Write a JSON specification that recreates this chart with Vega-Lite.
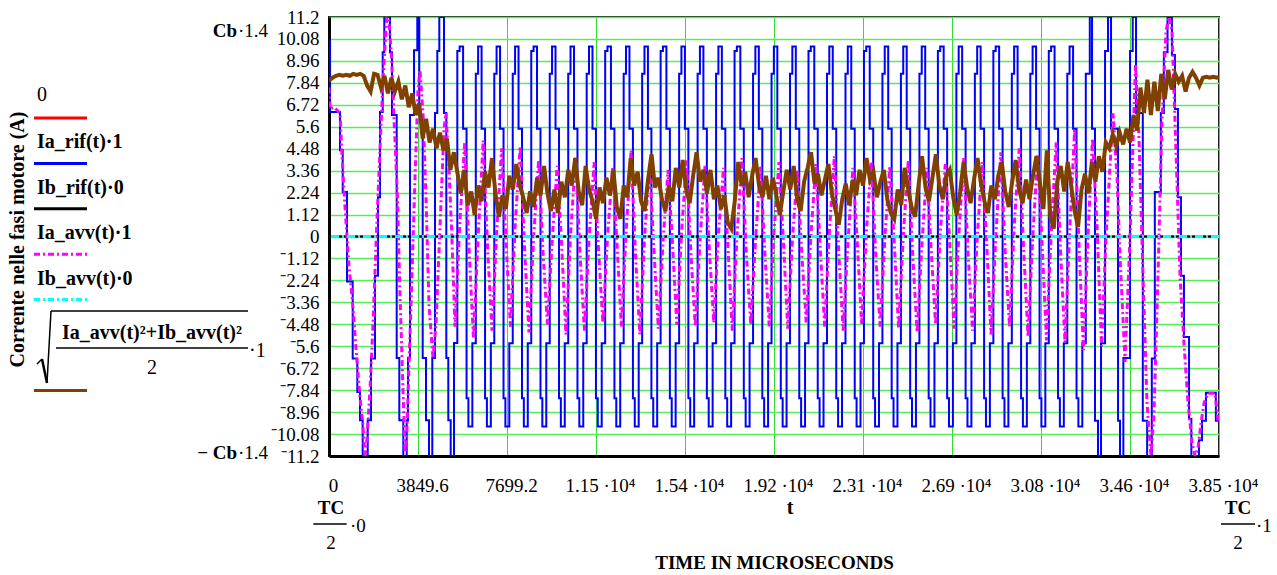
{
"$schema": "https://vega.github.io/schema/vega-lite/v6.json",
"background": "white",
"padding": {"left": 0, "top": 7, "right": 0, "bottom": 0},
"bounds": "flush",
"spacing": 59,
"config": {"font": "Liberation Serif", "view": {"stroke": null}, "axis": {"labelOverlap": false}},
"datasets": {
"legend": [
{"series": "0", "order": 0},
{"series": "Ia_rif(t)·1", "order": 1},
{"series": "Ib_rif(t)·0", "order": 2},
{"series": "Ia_avv(t)·1", "order": 3},
{"series": "Ib_avv(t)·0", "order": 4},
{"series": "√((Ia_avv(t)²+Ib_avv(t)²)/2)·1", "order": 6}
],
"blue": [
{"t":0,"v":10.0},{"t":45,"v":6.35},{"t":476,"v":4.4},{"t":593,"v":2.27},{"t":780,"v":-2.3},{"t":1025,"v":-6.23},{"t":1224,"v":-7.93},{"t":1341,"v":-9.38},{"t":1457,"v":-11.2},{"t":1674,"v":-9.38},{"t":1817,"v":-6.23},{"t":1990,"v":-2.0},{"t":2120,"v":2.0},{"t":2206,"v":6.35},{"t":2323,"v":9.4},{"t":2392,"v":11.2},{"t":2638,"v":9.4},{"t":2725,"v":6.2},{"t":2928,"v":-6.2},{"t":3041,"v":-9.38},{"t":3214,"v":-11.2},{"t":3361,"v":-9.38},{"t":3417,"v":-6.2},{"t":3504,"v":6.2},{"t":3677,"v":9.5},{"t":3819,"v":11.2},{"t":3906,"v":6.2},{"t":4053,"v":-6.2},{"t":4196,"v":-9.38},{"t":4325,"v":-11.2},{"t":4468,"v":-6.2},{"t":4585,"v":6.3},{"t":4684,"v":9.47},{"t":4771,"v":11.2},{"t":4974,"v":6.3},{"t":5074,"v":-6.2},{"t":5160,"v":-9.38},{"t":5264,"v":-11.2},{"t":5407,"v":-5.43},
{"t":5550,"v":9.47},{"t":5650,"v":9.7},{"t":5800,"v":5.5},{"t":5950,"v":-8.25},{"t":6030,"v":-9.7},{"t":6200,"v":-5.45},
{"t":6350,"v":8.3},{"t":6450,"v":9.7},{"t":6600,"v":5.5},{"t":6750,"v":-8.25},{"t":6830,"v":-9.7},{"t":7000,"v":-5.45},
{"t":7149,"v":8.3},{"t":7249,"v":9.7},{"t":7399,"v":5.5},{"t":7549,"v":-8.25},{"t":7629,"v":-9.7},{"t":7799,"v":-5.45},
{"t":7948,"v":8.3},{"t":8048,"v":9.7},{"t":8198,"v":5.5},{"t":8348,"v":-8.25},{"t":8428,"v":-9.7},{"t":8598,"v":-5.45},
{"t":8748,"v":9.47},{"t":8848,"v":9.7},{"t":8998,"v":5.5},{"t":9148,"v":-8.25},{"t":9228,"v":-9.7},{"t":9398,"v":-5.45},
{"t":9548,"v":8.3},{"t":9648,"v":9.7},{"t":9798,"v":5.5},{"t":9948,"v":-8.25},{"t":10028,"v":-9.7},{"t":10198,"v":-5.45},
{"t":10347,"v":8.3},{"t":10447,"v":9.7},{"t":10597,"v":5.5},{"t":10747,"v":-8.25},{"t":10827,"v":-9.7},{"t":10997,"v":-5.45},
{"t":11146,"v":8.3},{"t":11246,"v":9.7},{"t":11396,"v":5.5},{"t":11546,"v":-8.25},{"t":11626,"v":-9.7},{"t":11796,"v":-5.45},
{"t":11946,"v":9.47},{"t":12046,"v":9.7},{"t":12196,"v":5.5},{"t":12346,"v":-8.25},{"t":12426,"v":-9.7},{"t":12596,"v":-5.45},
{"t":12746,"v":8.3},{"t":12846,"v":9.7},{"t":12996,"v":5.5},{"t":13146,"v":-8.25},{"t":13226,"v":-9.7},{"t":13396,"v":-5.45},
{"t":13545,"v":8.3},{"t":13645,"v":9.7},{"t":13795,"v":5.5},{"t":13945,"v":-8.25},{"t":14025,"v":-9.7},{"t":14195,"v":-5.45},
{"t":14344,"v":9.47},{"t":14444,"v":9.7},{"t":14594,"v":5.5},{"t":14744,"v":-8.25},{"t":14824,"v":-9.7},{"t":14994,"v":-5.45},
{"t":15144,"v":8.3},{"t":15244,"v":9.7},{"t":15394,"v":5.5},{"t":15544,"v":-8.25},{"t":15624,"v":-9.7},{"t":15794,"v":-5.45},
{"t":15944,"v":8.3},{"t":16044,"v":9.7},{"t":16194,"v":5.5},{"t":16344,"v":-8.25},{"t":16424,"v":-9.7},{"t":16594,"v":-5.45},
{"t":16743,"v":8.3},{"t":16843,"v":9.7},{"t":16993,"v":5.5},{"t":17143,"v":-8.25},{"t":17223,"v":-9.7},{"t":17393,"v":-5.45},
{"t":17542,"v":9.47},{"t":17642,"v":9.7},{"t":17792,"v":5.5},{"t":17942,"v":-8.25},{"t":18022,"v":-9.7},{"t":18192,"v":-5.45},
{"t":18342,"v":8.3},{"t":18442,"v":9.7},{"t":18592,"v":5.5},{"t":18742,"v":-8.25},{"t":18822,"v":-9.7},{"t":18992,"v":-5.45},
{"t":19142,"v":8.3},{"t":19242,"v":9.7},{"t":19392,"v":5.5},{"t":19542,"v":-8.25},{"t":19622,"v":-9.7},{"t":19792,"v":-5.45},
{"t":19941,"v":8.3},{"t":20041,"v":9.7},{"t":20191,"v":5.5},{"t":20341,"v":-8.25},{"t":20421,"v":-9.7},{"t":20591,"v":-5.45},
{"t":20740,"v":9.47},{"t":20840,"v":9.7},{"t":20990,"v":5.5},{"t":21140,"v":-8.25},{"t":21220,"v":-9.7},{"t":21390,"v":-5.45},
{"t":21540,"v":8.3},{"t":21640,"v":9.7},{"t":21790,"v":5.5},{"t":21940,"v":-8.25},{"t":22020,"v":-9.7},{"t":22190,"v":-5.45},
{"t":22340,"v":8.3},{"t":22440,"v":9.7},{"t":22590,"v":5.5},{"t":22740,"v":-8.25},{"t":22820,"v":-9.7},{"t":22990,"v":-5.45},
{"t":23139,"v":9.47},{"t":23239,"v":9.7},{"t":23389,"v":5.5},{"t":23539,"v":-8.25},{"t":23619,"v":-9.7},{"t":23789,"v":-5.45},
{"t":23938,"v":8.3},{"t":24038,"v":9.7},{"t":24188,"v":5.5},{"t":24338,"v":-8.25},{"t":24418,"v":-9.7},{"t":24588,"v":-5.45},
{"t":24738,"v":8.3},{"t":24838,"v":9.7},{"t":24988,"v":5.5},{"t":25138,"v":-8.25},{"t":25218,"v":-9.7},{"t":25388,"v":-5.45},
{"t":25538,"v":8.3},{"t":25638,"v":9.7},{"t":25788,"v":5.5},{"t":25938,"v":-8.25},{"t":26018,"v":-9.7},{"t":26188,"v":-5.45},
{"t":26337,"v":9.47},{"t":26437,"v":9.7},{"t":26587,"v":5.5},{"t":26737,"v":-8.25},{"t":26817,"v":-9.7},{"t":26987,"v":-5.45},
{"t":27136,"v":8.3},{"t":27236,"v":9.7},{"t":27386,"v":5.5},{"t":27536,"v":-8.25},{"t":27616,"v":-9.7},{"t":27786,"v":-5.45},
{"t":27936,"v":8.3},{"t":28036,"v":9.7},{"t":28186,"v":5.5},{"t":28336,"v":-8.25},{"t":28416,"v":-9.7},{"t":28586,"v":-5.45},
{"t":28736,"v":9.47},{"t":28836,"v":9.7},{"t":28986,"v":5.5},{"t":29136,"v":-8.25},{"t":29216,"v":-9.7},{"t":29386,"v":-5.45},
{"t":29535,"v":8.3},{"t":29635,"v":9.7},{"t":29785,"v":5.5},{"t":29935,"v":-8.25},{"t":30015,"v":-9.7},{"t":30185,"v":-5.45},
{"t":30334,"v":8.3},{"t":30434,"v":9.7},{"t":30584,"v":5.5},{"t":30734,"v":-8.25},{"t":30814,"v":-9.7},{"t":30984,"v":-5.45},
{"t":31134,"v":9.47},{"t":31234,"v":9.7},{"t":31384,"v":5.5},{"t":31534,"v":-8.25},{"t":31614,"v":-9.7},{"t":31784,"v":-5.45},
{"t":31934,"v":8.3},{"t":32034,"v":9.7},{"t":32184,"v":5.5},{"t":32334,"v":-8.25},{"t":32414,"v":-9.7},{"t":32584,"v":-5.45},
{"t":32734,"v":8.3},{"t":32907,"v":11.2},{"t":33004,"v":5.5},{"t":33133,"v":-9.4},{"t":33263,"v":-11.2},{"t":33393,"v":-5.45},{"t":33567,"v":9.47},{"t":33696,"v":11.2},{"t":33826,"v":5.5},{"t":34129,"v":-9.4},{"t":34215,"v":-11.2},{"t":34359,"v":-6.2},{"t":34648,"v":9.47},{"t":34763,"v":11.2},{"t":34907,"v":6.3},{"t":35200,"v":-9.4},{"t":35388,"v":-11.2},{"t":35590,"v":-6.23},{"t":35720,"v":2.27},{"t":35980,"v":6.3},{"t":36110,"v":9.4},{"t":36270,"v":11.2},{"t":36460,"v":9.26},{"t":36590,"v":6.5},{"t":36720,"v":2.0},{"t":36850,"v":-2.0},{"t":36980,"v":-5.13},{"t":37200,"v":-9.3},{"t":37300,"v":-11.2},{"t":37630,"v":-10.4},{"t":37760,"v":-9.4},{"t":37930,"v":-7.97},{"t":38360,"v":-9.4},{"t":38496,"v":-9.4}
],
"mag": [
{"t":0,"v":7.6},{"t":43,"v":6.5},{"t":216,"v":6.6},{"t":476,"v":6.3},{"t":549,"v":4.4},{"t":692,"v":1.5},{"t":865,"v":-1.5},{"t":1051,"v":-3.8},{"t":1198,"v":-6.2},{"t":1341,"v":-8.2},{"t":1457,"v":-9.5},{"t":1557,"v":-11.2},{"t":1644,"v":-10.3},{"t":1773,"v":-7.8},{"t":1903,"v":-4.5},{"t":2063,"v":0.5},{"t":2206,"v":4.5},{"t":2336,"v":8.0},{"t":2496,"v":11.2},{"t":2595,"v":11.0},{"t":2712,"v":9.0},{"t":2812,"v":6.0},{"t":2963,"v":2.0},{"t":3071,"v":-3.0},{"t":3179,"v":-7.0},{"t":3287,"v":-11.0},{"t":3361,"v":-10.3},{"t":3460,"v":-6.5},{"t":3590,"v":-2.0},{"t":3720,"v":3.0},{"t":3850,"v":7.5},{"t":3936,"v":8.5},{"t":4066,"v":6.3},{"t":4196,"v":2.0},{"t":4325,"v":-3.5},{"t":4498,"v":-6.2},{"t":4628,"v":-4.5},{"t":4801,"v":0.5},{"t":4974,"v":5.5},{"t":5061,"v":6.3},{"t":5169,"v":4.0},{"t":5299,"v":0.5},{"t":5450,"v":-4.6},
{"t":5660,"v":0.7},{"t":5870,"v":4.8},{"t":6060,"v":-0.7},{"t":6250,"v":-5.2},
{"t":6460,"v":0.2},{"t":6670,"v":4.9},{"t":6860,"v":-0.6},{"t":7050,"v":-4.8},
{"t":7259,"v":0.4},{"t":7469,"v":4.5},{"t":7659,"v":-0.3},{"t":7849,"v":-4.6},
{"t":8058,"v":0.7},{"t":8268,"v":4.6},{"t":8458,"v":-0.6},{"t":8648,"v":-4.9},
{"t":8858,"v":0.1},{"t":9068,"v":3.9},{"t":9258,"v":-0.8},{"t":9448,"v":-4.5},
{"t":9658,"v":-0.15},{"t":9868,"v":3.6},{"t":10058,"v":-0.3},{"t":10248,"v":-5.0},
{"t":10457,"v":0.25},{"t":10667,"v":4.1},{"t":10857,"v":-0.85},{"t":11047,"v":-4.8},
{"t":11256,"v":0.0},{"t":11466,"v":3.8},{"t":11656,"v":-0.6},{"t":11846,"v":-4.4},
{"t":12056,"v":0.15},{"t":12266,"v":3.5},{"t":12456,"v":-0.35},{"t":12646,"v":-4.6},
{"t":12856,"v":0.3},{"t":13066,"v":4.4},{"t":13256,"v":-0.9},{"t":13446,"v":-5.0},
{"t":13655,"v":0.05},{"t":13865,"v":3.7},{"t":14055,"v":-0.7},{"t":14245,"v":-4.7},
{"t":14454,"v":-0.15},{"t":14664,"v":3.4},{"t":14854,"v":-0.25},{"t":15044,"v":-4.5},
{"t":15254,"v":0.3},{"t":15464,"v":3.9},{"t":15654,"v":-0.85},{"t":15844,"v":-4.6},
{"t":16054,"v":-0.1},{"t":16264,"v":3.6},{"t":16454,"v":-0.7},{"t":16644,"v":-4.4},
{"t":16853,"v":0.25},{"t":17063,"v":3.5},{"t":17253,"v":-0.45},{"t":17443,"v":-4.8},
{"t":17652,"v":0.1},{"t":17862,"v":4.0},{"t":18052,"v":-0.85},{"t":18242,"v":-4.5},
{"t":18452,"v":-0.15},{"t":18662,"v":3.6},{"t":18852,"v":-0.8},{"t":19042,"v":-4.6},
{"t":19252,"v":0.3},{"t":19462,"v":3.8},{"t":19652,"v":-0.15},{"t":19842,"v":-4.7},
{"t":20051,"v":-0.05},{"t":20261,"v":3.4},{"t":20451,"v":-0.9},{"t":20641,"v":-4.4},
{"t":20850,"v":0.15},{"t":21060,"v":3.7},{"t":21250,"v":-0.65},{"t":21440,"v":-4.6},
{"t":21650,"v":0.35},{"t":21860,"v":4.1},{"t":22050,"v":-0.85},{"t":22240,"v":-4.8},
{"t":22450,"v":-0.25},{"t":22660,"v":3.5},{"t":22850,"v":-0.3},{"t":23040,"v":-4.5},
{"t":23249,"v":0.35},{"t":23459,"v":3.8},{"t":23649,"v":-1.0},{"t":23839,"v":-4.6},
{"t":24048,"v":0.0},{"t":24258,"v":3.6},{"t":24448,"v":-0.25},{"t":24638,"v":-4.7},
{"t":24848,"v":0.2},{"t":25058,"v":3.9},{"t":25248,"v":-0.9},{"t":25438,"v":-4.9},
{"t":25648,"v":-0.4},{"t":25858,"v":3.5},{"t":26048,"v":-0.7},{"t":26238,"v":-4.5},
{"t":26447,"v":0.3},{"t":26657,"v":3.7},{"t":26847,"v":-0.3},{"t":27037,"v":-4.7},
{"t":27246,"v":0.15},{"t":27456,"v":4.0},{"t":27646,"v":-0.9},{"t":27836,"v":-4.8},
{"t":28046,"v":0.1},{"t":28256,"v":3.8},{"t":28446,"v":-0.3},{"t":28636,"v":-5.0},
{"t":28846,"v":0.05},{"t":29056,"v":4.3},{"t":29246,"v":-0.75},{"t":29436,"v":-4.6},
{"t":29645,"v":0.65},{"t":29855,"v":4.5},{"t":30045,"v":-0.6},{"t":30235,"v":-5.1},
{"t":30444,"v":0.05},{"t":30654,"v":4.2},{"t":30844,"v":-0.35},{"t":31034,"v":-5.3},
{"t":31244,"v":0.35},{"t":31454,"v":4.8},{"t":31644,"v":-0.8},{"t":31834,"v":-5.4},
{"t":32044,"v":0.45},{"t":32254,"v":5.5},{"t":32444,"v":-0.55},{"t":32634,"v":-5.8},
{"t":32830,"v":0.0},{"t":33025,"v":5.0},{"t":33220,"v":0.5},{"t":33415,"v":-5.6},{"t":33610,"v":0.0},{"t":33914,"v":6.3},{"t":34087,"v":3.0},{"t":34215,"v":-1.0},{"t":34431,"v":-6.4},{"t":34648,"v":0.0},{"t":34885,"v":8.8},{"t":35036,"v":5.0},{"t":35209,"v":-2.0},{"t":35382,"v":-8.5},{"t":35555,"v":-11.2},{"t":35685,"v":-9.0},{"t":35858,"v":-2.0},{"t":36031,"v":6.0},{"t":36204,"v":10.5},{"t":36334,"v":11.2},{"t":36464,"v":10.5},{"t":36560,"v":7.0},{"t":36637,"v":4.3},{"t":36810,"v":-2.0},{"t":36983,"v":-5.5},{"t":37156,"v":-8.5},{"t":37329,"v":-10.5},{"t":37459,"v":-11.2},{"t":37589,"v":-10.8},{"t":37719,"v":-9.5},{"t":37849,"v":-8.5},{"t":38022,"v":-8.0},{"t":38325,"v":-8.0},{"t":38455,"v":-9.4},{"t":38496,"v":-9.5}
],
"brown": [
{"t":0,"v":7.95},{"t":150,"v":8.1},{"t":300,"v":8.2},{"t":450,"v":8.25},{"t":600,"v":8.2},{"t":750,"v":8.25},{"t":900,"v":8.2},{"t":1050,"v":8.3},{"t":1200,"v":8.25},{"t":1350,"v":8.3},{"t":1500,"v":8.2},{"t":1650,"v":7.7},{"t":1800,"v":7.4},{"t":1950,"v":8.3},{"t":2100,"v":8.25},{"t":2250,"v":7.6},{"t":2400,"v":8.2},{"t":2550,"v":7.3},{"t":2700,"v":8.1},{"t":2850,"v":7.4},{"t":3000,"v":7.9},{"t":3150,"v":7.0},{"t":3300,"v":7.7},{"t":3450,"v":6.6},{"t":3600,"v":7.3},{"t":3750,"v":6.2},{"t":3900,"v":6.8},{"t":4050,"v":5.0},{"t":4200,"v":6.0},{"t":4350,"v":4.8},{"t":4500,"v":5.5},{"t":4650,"v":4.5},{"t":4800,"v":5.3},{"t":4950,"v":4.4},{"t":5100,"v":5.0},{"t":5250,"v":3.4},{"t":5400,"v":4.3},{"t":5550,"v":3.3},{"t":5700,"v":2.2},{"t":5850,"v":3.4},{"t":6000,"v":1.6},{"t":6150,"v":2.3},{"t":6300,"v":1.1},{"t":6450,"v":2.6},{"t":6600,"v":1.8},{"t":6750,"v":3.3},{"t":6900,"v":2.5},{"t":7050,"v":4.0},{"t":7200,"v":2.2},{"t":7350,"v":1.0},{"t":7500,"v":2.1},{"t":7650,"v":1.4},{"t":7800,"v":3.1},{"t":7950,"v":2.4},{"t":8100,"v":3.7},{"t":8250,"v":2.6},{"t":8400,"v":2.0},{"t":8550,"v":1.2},{"t":8700,"v":2.3},{"t":8850,"v":1.5},{"t":9000,"v":3.0},{"t":9150,"v":2.1},{"t":9300,"v":3.6},{"t":9450,"v":2.2},{"t":9600,"v":1.3},{"t":9750,"v":2.4},{"t":9900,"v":1.2},{"t":10050,"v":2.8},{"t":10200,"v":2.0},{"t":10350,"v":3.4},{"t":10500,"v":2.6},{"t":10650,"v":4.0},{"t":10800,"v":2.3},{"t":10950,"v":1.6},{"t":11100,"v":3.6},{"t":11250,"v":2.4},{"t":11400,"v":1.8},{"t":11550,"v":0.9},{"t":11700,"v":2.5},{"t":11850,"v":1.7},{"t":12000,"v":3.0},{"t":12150,"v":2.1},{"t":12300,"v":3.4},{"t":12450,"v":1.5},{"t":12600,"v":0.9},{"t":12750,"v":2.6},{"t":12900,"v":2.0},{"t":13050,"v":4.0},{"t":13200,"v":2.6},{"t":13350,"v":3.3},{"t":13500,"v":1.8},{"t":13650,"v":1.3},{"t":13800,"v":2.9},{"t":13950,"v":4.2},{"t":14100,"v":2.5},{"t":14250,"v":3.0},{"t":14400,"v":1.9},{"t":14550,"v":1.3},{"t":14700,"v":2.6},{"t":14850,"v":1.8},{"t":15000,"v":3.5},{"t":15150,"v":2.5},{"t":15300,"v":3.9},{"t":15450,"v":2.4},{"t":15600,"v":1.7},{"t":15750,"v":3.1},{"t":15900,"v":4.3},{"t":16050,"v":2.8},{"t":16200,"v":3.4},{"t":16350,"v":2.2},{"t":16500,"v":3.4},{"t":16650,"v":1.9},{"t":16800,"v":2.6},{"t":16950,"v":1.4},{"t":17100,"v":2.1},{"t":17250,"v":0.7},{"t":17400,"v":0.4},{"t":17550,"v":1.8},{"t":17700,"v":3.8},{"t":17850,"v":2.6},{"t":18000,"v":3.3},{"t":18150,"v":2.0},{"t":18300,"v":3.1},{"t":18450,"v":4.0},{"t":18600,"v":2.6},{"t":18750,"v":2.0},{"t":18900,"v":3.1},{"t":19050,"v":1.9},{"t":19200,"v":3.0},{"t":19350,"v":2.1},{"t":19500,"v":1.1},{"t":19650,"v":2.3},{"t":19800,"v":3.4},{"t":19950,"v":2.4},{"t":20100,"v":3.6},{"t":20250,"v":1.9},{"t":20400,"v":1.3},{"t":20550,"v":2.8},{"t":20700,"v":3.5},{"t":20850,"v":4.3},{"t":21000,"v":2.7},{"t":21150,"v":3.2},{"t":21300,"v":2.1},{"t":21450,"v":2.9},{"t":21600,"v":3.7},{"t":21750,"v":2.2},{"t":21900,"v":1.4},{"t":22050,"v":0.6},{"t":22200,"v":1.9},{"t":22350,"v":2.7},{"t":22500,"v":1.6},{"t":22650,"v":2.9},{"t":22800,"v":2.1},{"t":22950,"v":3.4},{"t":23100,"v":2.6},{"t":23250,"v":4.0},{"t":23400,"v":2.9},{"t":23550,"v":3.3},{"t":23700,"v":2.0},{"t":23850,"v":2.8},{"t":24000,"v":3.4},{"t":24150,"v":1.9},{"t":24300,"v":1.2},{"t":24450,"v":0.9},{"t":24600,"v":2.4},{"t":24750,"v":1.6},{"t":24900,"v":3.5},{"t":25050,"v":2.4},{"t":25200,"v":1.5},{"t":25350,"v":1.0},{"t":25500,"v":2.6},{"t":25650,"v":4.1},{"t":25800,"v":2.5},{"t":25950,"v":1.8},{"t":26100,"v":3.0},{"t":26250,"v":4.2},{"t":26400,"v":2.6},{"t":26550,"v":1.9},{"t":26700,"v":3.1},{"t":26850,"v":3.4},{"t":27000,"v":2.0},{"t":27150,"v":1.1},{"t":27300,"v":2.3},{"t":27450,"v":3.8},{"t":27600,"v":2.5},{"t":27750,"v":1.7},{"t":27900,"v":2.9},{"t":28050,"v":4.0},{"t":28200,"v":2.7},{"t":28350,"v":1.8},{"t":28500,"v":1.2},{"t":28650,"v":2.6},{"t":28800,"v":1.9},{"t":28950,"v":3.1},{"t":29100,"v":3.8},{"t":29250,"v":2.3},{"t":29400,"v":1.5},{"t":29550,"v":2.8},{"t":29700,"v":3.9},{"t":29850,"v":2.4},{"t":30000,"v":1.7},{"t":30150,"v":2.9},{"t":30300,"v":1.9},{"t":30450,"v":3.1},{"t":30600,"v":4.1},{"t":30750,"v":2.7},{"t":30900,"v":1.4},{"t":31050,"v":4.4},{"t":31200,"v":1.0},{"t":31350,"v":0.4},{"t":31500,"v":2.8},{"t":31650,"v":3.6},{"t":31800,"v":2.3},{"t":31950,"v":3.8},{"t":32100,"v":2.6},{"t":32250,"v":1.3},{"t":32400,"v":0.5},{"t":32550,"v":2.4},{"t":32700,"v":3.2},{"t":32850,"v":2.2},{"t":33000,"v":3.8},{"t":33150,"v":2.8},{"t":33300,"v":4.1},{"t":33450,"v":3.3},{"t":33600,"v":4.8},{"t":33750,"v":4.5},{"t":33900,"v":5.2},{"t":34050,"v":4.6},{"t":34200,"v":5.3},{"t":34350,"v":4.7},{"t":34500,"v":5.5},{"t":34650,"v":4.8},{"t":34800,"v":6.2},{"t":34950,"v":5.4},{"t":35100,"v":7.6},{"t":35250,"v":6.3},{"t":35400,"v":8.0},{"t":35550,"v":6.2},{"t":35700,"v":7.9},{"t":35850,"v":6.4},{"t":36000,"v":8.3},{"t":36150,"v":7.0},{"t":36300,"v":8.5},{"t":36450,"v":7.5},{"t":36600,"v":8.3},{"t":36750,"v":7.9},{"t":36900,"v":8.2},{"t":37050,"v":7.4},{"t":37200,"v":8.1},{"t":37350,"v":8.4},{"t":37500,"v":8.1},{"t":37650,"v":7.7},{"t":37800,"v":8.1},{"t":37950,"v":8.15},{"t":38100,"v":8.1},{"t":38250,"v":8.15},{"t":38400,"v":8.1},{"t":38496,"v":8.15}
]
},
"hconcat": [
{
"width": 270, "height": 439,
"layer": [
{"data": {"values": [{}]},
 "mark": {"type": "text", "text": "Corrente nelle fasi motore (A)", "angle": 270, "fontSize": 20, "fontWeight": "bold", "align": "center", "baseline": "middle", "color": "black"},
 "encoding": {
  "x": {"datum": 18, "type": "quantitative", "scale": {"domain": [0, 270], "nice": false, "zero": false}, "axis": null},
  "y": {"datum": 2.676, "type": "quantitative", "scale": {"domain": [-2.225, 7.445], "nice": false, "zero": false, "reverse": true}, "axis": null}}},
{"data": {"name": "legend"},
 "mark": {"type": "rule", "strokeWidth": 3},
 "encoding": {
  "x": {"datum": 34, "type": "quantitative", "axis": null},
  "x2": {"datum": 87},
  "y": {"field": "order", "type": "quantitative", "axis": null},
  "color": {"field": "series", "type": "nominal", "legend": null, "scale": {"domain": ["0", "Ia_rif(t)·1", "Ib_rif(t)·0", "Ia_avv(t)·1", "Ib_avv(t)·0", "√((Ia_avv(t)²+Ib_avv(t)²)/2)·1"], "range": ["#ff0000", "#0000ff", "#000000", "#ff00ff", "#00ffff", "#804000"]}},
  "strokeDash": {"field": "series", "type": "nominal", "legend": null, "scale": {"domain": ["0", "Ia_rif(t)·1", "Ib_rif(t)·0", "Ia_avv(t)·1", "Ib_avv(t)·0", "√((Ia_avv(t)²+Ib_avv(t)²)/2)·1"], "range": [[1, 0], [1, 0], [1, 0], [6, 3, 2, 3], [6, 3, 2, 3], [1, 0]]}}}},
{"data": {"name": "legend"},
 "transform": [{"filter": "datum.order == 0"}],
 "mark": {"type": "text", "align": "left", "baseline": "middle", "dy": -23, "fontSize": 20, "color": "black"},
 "encoding": {"x": {"datum": 37, "type": "quantitative", "axis": null}, "y": {"field": "order", "type": "quantitative", "axis": null}, "text": {"field": "series"}}},
{"data": {"name": "legend"},
 "transform": [{"filter": "datum.order >= 1 && datum.order <= 4"}],
 "mark": {"type": "text", "align": "left", "baseline": "middle", "dy": -21, "fontSize": 20, "fontWeight": "bold", "color": "black"},
 "encoding": {"x": {"datum": 37, "type": "quantitative", "axis": null}, "y": {"field": "order", "type": "quantitative", "axis": null}, "text": {"field": "series"}}},
{"data": {"values": [{}]},
 "mark": {"type": "text", "text": "Ia_avv(t)²+Ib_avv(t)²", "align": "center", "baseline": "middle", "fontSize": 20, "fontWeight": "bold", "color": "black"},
 "encoding": {"x": {"datum": 152, "type": "quantitative", "axis": null}, "y": {"datum": 4.735, "type": "quantitative", "axis": null}}},
{"data": {"values": [{}]},
 "mark": {"type": "text", "text": "2", "align": "center", "baseline": "middle", "fontSize": 20, "color": "black"},
 "encoding": {"x": {"datum": 152, "type": "quantitative", "axis": null}, "y": {"datum": 5.506, "type": "quantitative", "axis": null}}},
{"data": {"values": [{}]},
 "mark": {"type": "text", "text": "·1", "align": "left", "baseline": "middle", "fontSize": 20, "color": "black"},
 "encoding": {"x": {"datum": 249, "type": "quantitative", "axis": null}, "y": {"datum": 5.132, "type": "quantitative", "axis": null}}},
{"data": {"values": [{}]},
 "mark": {"type": "rule", "color": "black", "strokeWidth": 1.5},
 "encoding": {"x": {"datum": 56, "type": "quantitative", "axis": null}, "x2": {"datum": 248}, "y": {"datum": 5.066, "type": "quantitative", "axis": null}}},
{"data": {"values": [{}]},
 "mark": {"type": "rule", "color": "black", "strokeWidth": 1.5},
 "encoding": {"x": {"datum": 51, "type": "quantitative", "axis": null}, "x2": {"datum": 248}, "y": {"datum": 4.251, "type": "quantitative", "axis": null}}},
{"data": {"values": [{}]},
 "mark": {"type": "rule", "color": "black", "strokeWidth": 1.5},
 "encoding": {"x": {"datum": 37, "type": "quantitative", "axis": null}, "x2": {"datum": 42}, "y": {"datum": 5.418, "type": "quantitative", "axis": null}, "y2": {"datum": 5.308}}},
{"data": {"values": [{}]},
 "mark": {"type": "rule", "color": "black", "strokeWidth": 2.5},
 "encoding": {"x": {"datum": 42, "type": "quantitative", "axis": null}, "x2": {"datum": 47}, "y": {"datum": 5.308, "type": "quantitative", "axis": null}, "y2": {"datum": 5.837}}},
{"data": {"values": [{}]},
 "mark": {"type": "rule", "color": "black", "strokeWidth": 1.5},
 "encoding": {"x": {"datum": 47, "type": "quantitative", "axis": null}, "x2": {"datum": 51}, "y": {"datum": 5.837, "type": "quantitative", "axis": null}, "y2": {"datum": 4.251}}}
]
},
{
"width": 890, "height": 439,
"view": {"stroke": "#222222", "strokeWidth": 2},
"layer": [
{"data": {"values": [{}]},
 "mark": {"type": "rule", "color": "#ff0000", "strokeWidth": 2},
 "encoding": {"y": {"datum": 0, "type": "quantitative"}}},
{"data": {"name": "blue"},
 "mark": {"type": "line", "interpolate": "step-after", "color": "#0000ff", "strokeWidth": 2, "clip": true},
 "encoding": {
  "x": {"field": "t", "type": "quantitative", "scale": {"domain": [0, 38496], "nice": false, "zero": false},
    "axis": {"title": "TIME IN MICROSECONDS", "titleFontSize": 19, "titleFontWeight": "bold", "titleColor": "black", "titlePadding": 58,
      "values": [0, 3849.6, 7699.2, 11548.8, 15398.4, 19248, 23097.6, 26947.2, 30796.8, 34646.4, 38496], "tickCount": 40,
      "labelExpr": "datum.value < 10000 ? format(datum.value, '~f') : format(datum.value / 10000, '.2f') + ' ·10⁴'",
      "labelFontSize": 19, "labelColor": "black", "labelPadding": 20, "labelFlush": false, "labelOverlap": false, "labelOffset": 4,
      "ticks": false, "tickSize": 0, "domain": true, "domainColor": "black", "domainWidth": 3,
      "grid": true, "gridColor": "#33dd33", "gridWidth": 1, "gridOpacity": 1}},
  "y": {"field": "v", "type": "quantitative",
   "scale": {"domain": [-11.2, 11.2], "nice": false, "zero": false},
   "axis": {"title": null, "values": [-11.2, -10.08, -8.96, -7.84, -6.72, -5.6, -4.48, -3.36, -2.24, -1.12, 0, 1.12, 2.24, 3.36, 4.48, 5.6, 6.72, 7.84, 8.96, 10.08, 11.2], "tickCount": 40,
     "labelExpr": "datum.value < -0.001 ? '⁻' + format(-datum.value, '.4~f') : format(datum.value, '.4~f')",
     "labelFontSize": 19, "labelColor": "black", "labelPadding": 10, "labelFlush": false, "labelOverlap": false, "labelBaseline": "middle",
     "ticks": false, "tickSize": 0, "domain": true, "domainColor": "black", "domainWidth": 3,
     "grid": true, "gridColor": "#55ee55", "gridWidth": 1.5, "gridOpacity": 1}}}},
{"data": {"values": [{}]},
 "mark": {"type": "rule", "color": "#000000", "strokeWidth": 2},
 "encoding": {"y": {"datum": 0, "type": "quantitative"}}},
{"data": {"name": "mag"},
 "mark": {"type": "line", "color": "#ff00ff", "strokeWidth": 3, "strokeDash": [6, 3, 2, 3], "clip": true},
 "encoding": {"x": {"field": "t", "type": "quantitative"}, "y": {"field": "v", "type": "quantitative"}}},
{"data": {"values": [{}]},
 "mark": {"type": "rule", "color": "#00ffff", "strokeWidth": 3, "strokeDash": [8, 3, 2, 3]},
 "encoding": {"y": {"datum": 0, "type": "quantitative"}}},
{"data": {"name": "brown"},
 "mark": {"type": "line", "color": "#804000", "strokeWidth": 4, "clip": true},
 "encoding": {"x": {"field": "t", "type": "quantitative"}, "y": {"field": "v", "type": "quantitative"}}},
{"data": {"values": [{}]},
 "mark": {"type": "text", "text": "Cb", "align": "right", "baseline": "middle", "dx": -92, "dy": 14, "fontSize": 19, "fontWeight": "bold", "color": "black"},
 "encoding": {"x": {"datum": 0, "type": "quantitative"}, "y": {"datum": 11.2, "type": "quantitative"}}},
{"data": {"values": [{}]},
 "mark": {"type": "text", "text": "·1.4", "align": "right", "baseline": "middle", "dx": -61, "dy": 14, "fontSize": 19, "color": "black"},
 "encoding": {"x": {"datum": 0, "type": "quantitative"}, "y": {"datum": 11.2, "type": "quantitative"}}},
{"data": {"values": [{}]},
 "mark": {"type": "text", "text": "− Cb", "align": "right", "baseline": "middle", "dx": -92, "dy": -3, "fontSize": 19, "fontWeight": "bold", "color": "black"},
 "encoding": {"x": {"datum": 0, "type": "quantitative"}, "y": {"datum": -11.2, "type": "quantitative"}}},
{"data": {"values": [{}]},
 "mark": {"type": "text", "text": "·1.4", "align": "right", "baseline": "middle", "dx": -61, "dy": -3, "fontSize": 19, "color": "black"},
 "encoding": {"x": {"datum": 0, "type": "quantitative"}, "y": {"datum": -11.2, "type": "quantitative"}}},
{"data": {"values": [{}]},
 "mark": {"type": "text", "text": "TC", "align": "center", "baseline": "middle", "fontSize": 19, "fontWeight": "bold", "color": "black"},
 "encoding": {"x": {"datum": 87, "type": "quantitative"}, "y": {"datum": -13.87, "type": "quantitative"}}},
{"data": {"values": [{}]},
 "mark": {"type": "rule", "color": "black", "strokeWidth": 1.5},
 "encoding": {"x": {"datum": -678, "type": "quantitative"}, "x2": {"datum": 764}, "y": {"datum": -14.67, "type": "quantitative"}}},
{"data": {"values": [{}]},
 "mark": {"type": "text", "text": "2", "align": "center", "baseline": "middle", "fontSize": 19, "color": "black"},
 "encoding": {"x": {"datum": 87, "type": "quantitative"}, "y": {"datum": -15.65, "type": "quantitative"}}},
{"data": {"values": [{}]},
 "mark": {"type": "text", "text": "·0", "align": "left", "baseline": "middle", "fontSize": 19, "color": "black"},
 "encoding": {"x": {"datum": 909, "type": "quantitative"}, "y": {"datum": -14.77, "type": "quantitative"}}},
{"data": {"values": [{}]},
 "mark": {"type": "text", "text": "t", "align": "center", "baseline": "middle", "fontSize": 20, "fontWeight": "bold", "color": "black"},
 "encoding": {"x": {"datum": 19940, "type": "quantitative"}, "y": {"datum": -13.87, "type": "quantitative"}}},
{"data": {"values": [{}]},
 "mark": {"type": "text", "text": "TC", "align": "center", "baseline": "middle", "fontSize": 19, "fontWeight": "bold", "color": "black"},
 "encoding": {"x": {"datum": 39318, "type": "quantitative"}, "y": {"datum": -13.87, "type": "quantitative"}}},
{"data": {"values": [{}]},
 "mark": {"type": "rule", "color": "black", "strokeWidth": 1.5},
 "encoding": {"x": {"datum": 38583, "type": "quantitative"}, "x2": {"datum": 40054}, "y": {"datum": -14.67, "type": "quantitative"}}},
{"data": {"values": [{}]},
 "mark": {"type": "text", "text": "2", "align": "center", "baseline": "middle", "fontSize": 19, "color": "black"},
 "encoding": {"x": {"datum": 39318, "type": "quantitative"}, "y": {"datum": -15.65, "type": "quantitative"}}},
{"data": {"values": [{}]},
 "mark": {"type": "text", "text": "·1", "align": "left", "baseline": "middle", "fontSize": 19, "color": "black"},
 "encoding": {"x": {"datum": 40096, "type": "quantitative"}, "y": {"datum": -14.77, "type": "quantitative"}}}
]
}
]
}
